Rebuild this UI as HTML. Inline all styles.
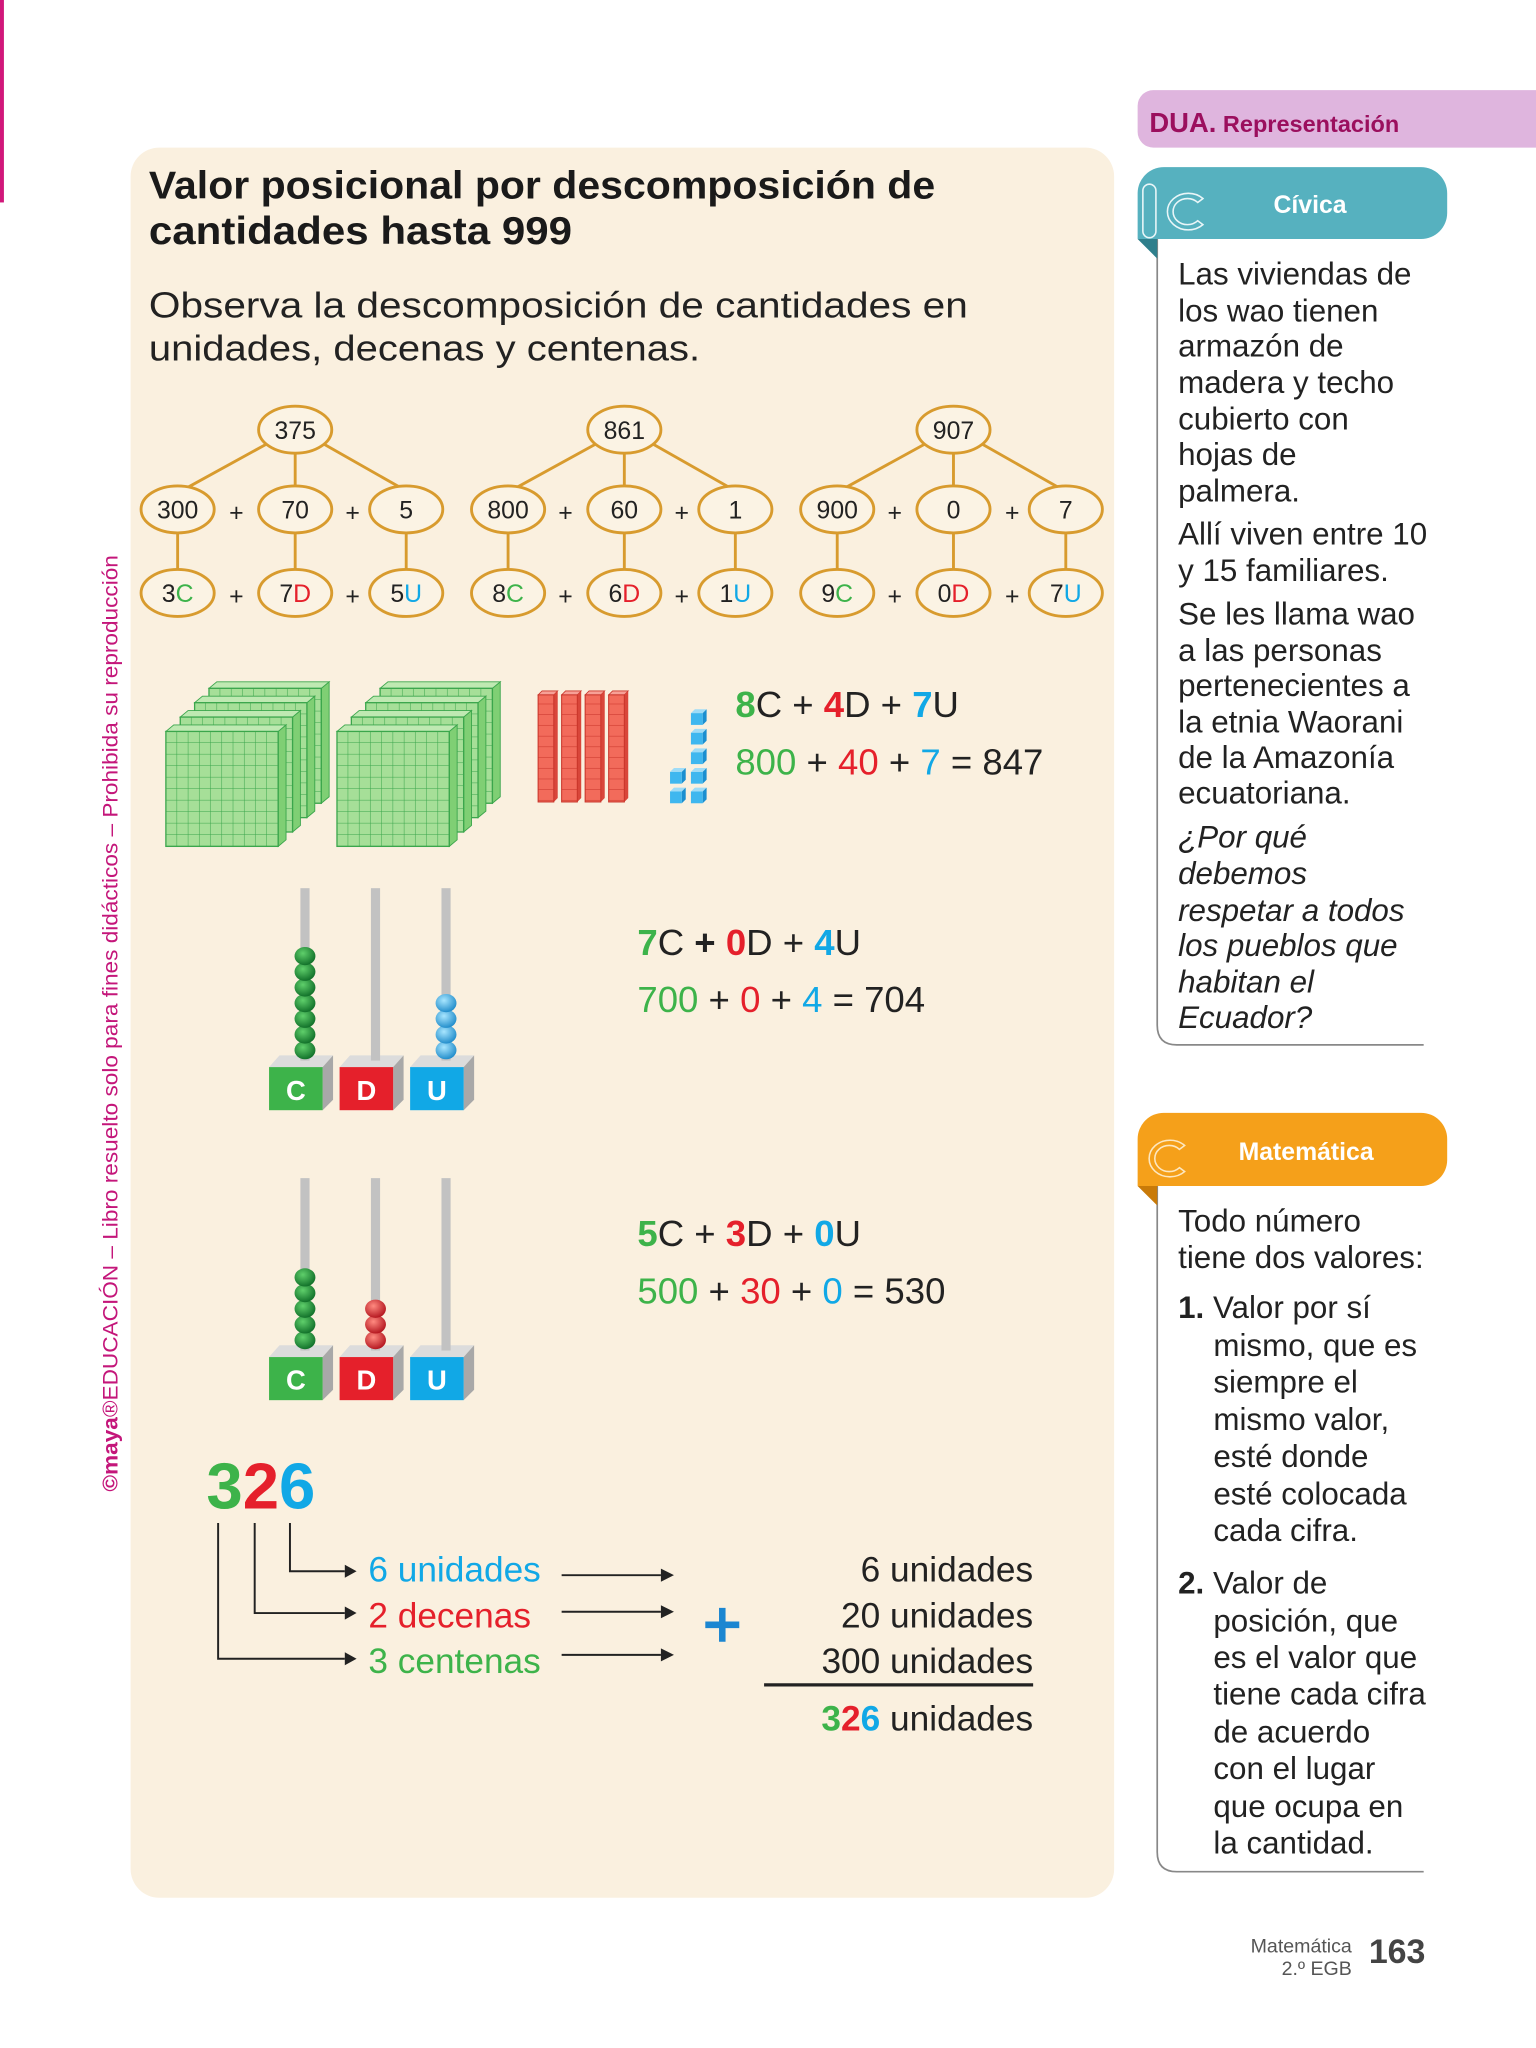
<!DOCTYPE html>
<html><head><meta charset="utf-8"><style>
html,body{margin:0;padding:0;background:#fff;}
svg{display:block;}
text{font-family:"Liberation Sans",sans-serif;}
</style></head><body>
<svg width="1536" height="2048" viewBox="0 0 1176 1568" xmlns="http://www.w3.org/2000/svg">
<defs>
<pattern id="g" x="0" y="0" width="8.6" height="8.8" patternUnits="userSpaceOnUse">
<rect width="8.6" height="8.8" fill="#a6df98"/>
<path d="M8.6 0V8.8M0 8.8H8.6" stroke="#3ba64c" stroke-width="0.8"/>
</pattern>
<g id="flat">
<polygon points="86,0 92,-5 92,83 86,88" fill="#7fcf74" stroke="#3ba64c" stroke-width="0.7"/>
<polygon points="0,0 6,-5 92,-5 86,0" fill="#bfe9b2" stroke="#3ba64c" stroke-width="0.7"/>
<rect x="0" y="0" width="86" height="88" fill="url(#g)" stroke="#3ba64c" stroke-width="1"/>
</g>
<g id="stack">
<use href="#flat" x="33" y="-33"/>
<use href="#flat" x="22" y="-22"/>
<use href="#flat" x="11" y="-11"/>
<use href="#flat" x="0" y="0"/>
</g>
<pattern id="r" x="0" y="532" width="12" height="8.2" patternUnits="userSpaceOnUse">
<rect width="12" height="8.2" fill="#f26b5b"/>
<path d="M0 8.2H12" stroke="#c9352a" stroke-width="0.8"/>
</pattern>
<g id="rod">
<polygon points="0,0 3,-3 15,-3 12,0" fill="#f7a096" stroke="#c9352a" stroke-width="0.6"/>
<polygon points="12,0 15,-3 15,79 12,82" fill="#d9463a"/>
<rect x="0" y="0" width="12" height="82" fill="url(#r)" stroke="#c9352a" stroke-width="0.8"/>
</g>
<g id="cube">
<polygon points="0,3 3,0 12,0 9,3" fill="#9fdcf7"/>
<polygon points="9,3 12,0 12,9 9,12" fill="#1b8fd0"/>
<rect x="0" y="3" width="9" height="9" fill="#3fb7ef"/>
</g>
<radialGradient id="gb" cx="0.4" cy="0.35" r="0.7"><stop offset="0" stop-color="#5fcf6b"/><stop offset="1" stop-color="#0d6b26"/></radialGradient>
<radialGradient id="bb" cx="0.4" cy="0.35" r="0.7"><stop offset="0" stop-color="#a8e6ff"/><stop offset="1" stop-color="#1a88c8"/></radialGradient>
<radialGradient id="rb" cx="0.4" cy="0.35" r="0.7"><stop offset="0" stop-color="#ff8a80"/><stop offset="1" stop-color="#b0101a"/></radialGradient>
<g id="boxes">
<polygon points="206,817 214,808 255,808 247,817" fill="#dcdcdc"/><polygon points="247,817 255,808 255,842 247,850" fill="#a8a8a8"/><rect x="206" y="817" width="41" height="33" fill="#3db34a"/>
<polygon points="260,817 268,808 309,808 301,817" fill="#dcdcdc"/><polygon points="301,817 309,808 309,842 301,850" fill="#a8a8a8"/><rect x="260" y="817" width="41" height="33" fill="#e5202b"/>
<polygon points="314,817 322,808 363,808 355,817" fill="#dcdcdc"/><polygon points="355,817 363,808 363,842 355,850" fill="#a8a8a8"/><rect x="314" y="817" width="41" height="33" fill="#11a8e6"/>
<text x="226.5" y="842" font-size="21" font-weight="bold" fill="#fff" text-anchor="middle">C</text>
<text x="280.5" y="842" font-size="21" font-weight="bold" fill="#fff" text-anchor="middle">D</text>
<text x="334.5" y="842" font-size="21" font-weight="bold" fill="#fff" text-anchor="middle">U</text>
<rect x="230" y="680" width="7" height="132" fill="#c2c2c2"/>
<rect x="284" y="680" width="7" height="132" fill="#c2c2c2"/>
<rect x="338" y="680" width="7" height="132" fill="#c2c2c2"/>
</g>
</defs>

<rect width="1176" height="1568" fill="#fff"/>
<rect x="0" y="0" width="3" height="155" fill="#d1177a"/>

<rect x="100" y="113" width="753" height="1340" rx="22" fill="#faf0df"/>
<text x="114" y="152" font-size="30" font-weight="bold" fill="#1a1a1a" textLength="602" lengthAdjust="spacingAndGlyphs">Valor posicional por descomposición de</text>
<text x="114" y="187" font-size="30" font-weight="bold" fill="#1a1a1a" textLength="324" lengthAdjust="spacingAndGlyphs">cantidades hasta 999</text>
<text x="114" y="243" font-size="28" fill="#222" textLength="627" lengthAdjust="spacingAndGlyphs">Observa la descomposición de cantidades en</text>
<text x="114" y="276" font-size="28" fill="#222" textLength="422" lengthAdjust="spacingAndGlyphs">unidades, decenas y centenas.</text>

<g stroke="#d89b2e" stroke-width="2.2" fill="none">
<path d="M204 340L144 373M226 347V372M248 340L306 373M136 408V436M226 408V436M311 408V436"/>
<path d="M456 340L396 373M478 347V372M500 340L558 373M389 408V436M478 408V436M563 408V436"/>
<path d="M708 340L648 373M730 347V372M752 340L810 373M641 408V436M730 408V436M816 408V436"/>
<g fill="#fbf3e4">
<ellipse cx="226" cy="329" rx="28" ry="18"/><ellipse cx="136" cy="390" rx="28" ry="18"/><ellipse cx="226" cy="390" rx="28" ry="18"/><ellipse cx="311" cy="390" rx="28" ry="18"/><ellipse cx="136" cy="454" rx="28" ry="18"/><ellipse cx="226" cy="454" rx="28" ry="18"/><ellipse cx="311" cy="454" rx="28" ry="18"/>
<ellipse cx="478" cy="329" rx="28" ry="18"/><ellipse cx="389" cy="390" rx="28" ry="18"/><ellipse cx="478" cy="390" rx="28" ry="18"/><ellipse cx="563" cy="390" rx="28" ry="18"/><ellipse cx="389" cy="454" rx="28" ry="18"/><ellipse cx="478" cy="454" rx="28" ry="18"/><ellipse cx="563" cy="454" rx="28" ry="18"/>
<ellipse cx="730" cy="329" rx="28" ry="18"/><ellipse cx="641" cy="390" rx="28" ry="18"/><ellipse cx="730" cy="390" rx="28" ry="18"/><ellipse cx="816" cy="390" rx="28" ry="18"/><ellipse cx="641" cy="454" rx="28" ry="18"/><ellipse cx="730" cy="454" rx="28" ry="18"/><ellipse cx="816" cy="454" rx="28" ry="18"/>
</g></g>
<g font-size="19" fill="#222" text-anchor="middle">
<text x="226" y="336">375</text><text x="136" y="397">300</text><text x="226" y="397">70</text><text x="311" y="397">5</text>
<text x="136" y="461">3<tspan fill="#3db34a">C</tspan></text><text x="226" y="461">7<tspan fill="#e5202b">D</tspan></text><text x="311" y="461">5<tspan fill="#11a8e6">U</tspan></text>
<text x="181" y="399">+</text><text x="270" y="399">+</text><text x="181" y="463">+</text><text x="270" y="463">+</text>
<text x="478" y="336">861</text><text x="389" y="397">800</text><text x="478" y="397">60</text><text x="563" y="397">1</text>
<text x="389" y="461">8<tspan fill="#3db34a">C</tspan></text><text x="478" y="461">6<tspan fill="#e5202b">D</tspan></text><text x="563" y="461">1<tspan fill="#11a8e6">U</tspan></text>
<text x="433" y="399">+</text><text x="522" y="399">+</text><text x="433" y="463">+</text><text x="522" y="463">+</text>
<text x="730" y="336">907</text><text x="641" y="397">900</text><text x="730" y="397">0</text><text x="816" y="397">7</text>
<text x="641" y="461">9<tspan fill="#3db34a">C</tspan></text><text x="730" y="461">0<tspan fill="#e5202b">D</tspan></text><text x="816" y="461">7<tspan fill="#11a8e6">U</tspan></text>
<text x="685" y="399">+</text><text x="775" y="399">+</text><text x="685" y="463">+</text><text x="775" y="463">+</text>
</g>

<use href="#stack" x="127" y="560"/>
<use href="#stack" x="258" y="560"/>
<use href="#rod" x="412" y="532"/><use href="#rod" x="430" y="532"/><use href="#rod" x="448" y="532"/><use href="#rod" x="466" y="532"/>
<use href="#cube" x="529" y="543"/><use href="#cube" x="529" y="558"/><use href="#cube" x="529" y="573"/><use href="#cube" x="529" y="588"/><use href="#cube" x="529" y="603"/>
<use href="#cube" x="513" y="588"/><use href="#cube" x="513" y="603"/>
<g font-size="28" fill="#222">
<text x="563" y="549"><tspan fill="#3db34a" font-weight="bold">8</tspan>C + <tspan fill="#e5202b" font-weight="bold">4</tspan>D + <tspan fill="#11a8e6" font-weight="bold">7</tspan>U</text>
<text x="563" y="593"><tspan fill="#3db34a">800</tspan> + <tspan fill="#e5202b">40</tspan> + <tspan fill="#11a8e6">7</tspan> = 847</text>
</g>

<use href="#boxes"/>
<g fill="url(#gb)">
<ellipse cx="233.5" cy="804" rx="8" ry="7"/><ellipse cx="233.5" cy="792" rx="8" ry="7"/><ellipse cx="233.5" cy="780" rx="8" ry="7"/><ellipse cx="233.5" cy="768" rx="8" ry="7"/><ellipse cx="233.5" cy="756" rx="8" ry="7"/><ellipse cx="233.5" cy="744" rx="8" ry="7"/><ellipse cx="233.5" cy="732" rx="8" ry="7"/>
</g>
<g fill="url(#bb)">
<ellipse cx="341.5" cy="804" rx="8" ry="7"/><ellipse cx="341.5" cy="792" rx="8" ry="7"/><ellipse cx="341.5" cy="780" rx="8" ry="7"/><ellipse cx="341.5" cy="768" rx="8" ry="7"/>
</g>
<g font-size="28" fill="#222">
<text x="488" y="731"><tspan fill="#3db34a" font-weight="bold">7</tspan>C <tspan font-weight="bold">+</tspan> <tspan fill="#e5202b" font-weight="bold">0</tspan>D + <tspan fill="#11a8e6" font-weight="bold">4</tspan>U</text>
<text x="488" y="775"><tspan fill="#3db34a">700</tspan> + <tspan fill="#e5202b">0</tspan> + <tspan fill="#11a8e6">4</tspan> = 704</text>
</g>

<use href="#boxes" y="222"/>
<g fill="url(#gb)">
<ellipse cx="233.5" cy="1026" rx="8" ry="7"/><ellipse cx="233.5" cy="1014" rx="8" ry="7"/><ellipse cx="233.5" cy="1002" rx="8" ry="7"/><ellipse cx="233.5" cy="990" rx="8" ry="7"/><ellipse cx="233.5" cy="978" rx="8" ry="7"/>
</g>
<g fill="url(#rb)">
<ellipse cx="287.5" cy="1026" rx="8" ry="7"/><ellipse cx="287.5" cy="1014" rx="8" ry="7"/><ellipse cx="287.5" cy="1002" rx="8" ry="7"/>
</g>
<g font-size="28" fill="#222">
<text x="488" y="954"><tspan fill="#3db34a" font-weight="bold">5</tspan>C + <tspan fill="#e5202b" font-weight="bold">3</tspan>D + <tspan fill="#11a8e6" font-weight="bold">0</tspan>U</text>
<text x="488" y="998"><tspan fill="#3db34a">500</tspan> + <tspan fill="#e5202b">30</tspan> + <tspan fill="#11a8e6">0</tspan> = 530</text>
</g>

<text x="158" y="1155" font-size="50" font-weight="bold"><tspan fill="#3db34a">3</tspan><tspan fill="#e5202b">2</tspan><tspan fill="#11a8e6">6</tspan></text>
<g stroke="#222" stroke-width="1.5" fill="none">
<path d="M167 1166V1270H264M195 1166V1235H264M222 1166V1203H264"/>
<path d="M430 1206H506M430 1234H506M430 1267H506"/>
<path d="M585 1290H791" stroke-width="2.5"/>
</g>
<g fill="#222">
<polygon points="264,1265 273,1270 264,1275"/><polygon points="264,1230 273,1235 264,1240"/><polygon points="264,1198 273,1203 264,1208"/>
<polygon points="506,1201 516,1206 506,1211"/><polygon points="506,1229 516,1234 506,1239"/><polygon points="506,1262 516,1267 506,1272"/>
</g>
<g font-size="27">
<text x="282" y="1211" fill="#11a8e6">6 unidades</text>
<text x="282" y="1246" fill="#e5202b">2 decenas</text>
<text x="282" y="1281" fill="#3db34a">3 centenas</text>
</g>
<path d="M553 1231V1257M540 1244H566" stroke="#1b86d1" stroke-width="5"/>
<g font-size="27" fill="#222" text-anchor="end">
<text x="791" y="1211">6 unidades</text>
<text x="791" y="1246">20 unidades</text>
<text x="791" y="1281">300 unidades</text>
<text x="791" y="1325"><tspan font-weight="bold" fill="#3db34a">3</tspan><tspan font-weight="bold" fill="#e5202b">2</tspan><tspan font-weight="bold" fill="#11a8e6">6</tspan> unidades</text>
</g>

<text transform="translate(90,1142) rotate(-90)" font-size="16" fill="#c4167a" textLength="717" lengthAdjust="spacingAndGlyphs"><tspan font-weight="bold">©maya</tspan>®EDUCACIÓN – Libro resuelto solo para fines didácticos – Prohibida su reproducción</text>

<path d="M883 69H1176V113H883A12 12 0 0 1 871 101V81A12 12 0 0 1 883 69Z" fill="#dfb5de"/>
<text x="880" y="101" font-size="21" font-weight="bold" fill="#9b0f5e">DUA.<tspan font-size="18"> Representación</tspan></text>

<path d="M886 183V785Q886 800 901 800H1090" stroke="#888" stroke-width="1.3" fill="none"/>
<polygon points="871,183 886,183 886,198" fill="#2f7f8c"/>
<path d="M891 128H1088A20 20 0 0 1 1108 148V163A20 20 0 0 1 1088 183H871V148A20 20 0 0 1 891 128Z" fill="#56b1bf"/>
<g fill="none" stroke="#e9f6f8" stroke-width="1.2">
<rect x="875" y="141" width="10" height="41" rx="5"/>
<path d="M921 152A16 14 0 1 0 921 172L917 169A11 10 0 1 1 917 155Z"/>
</g>
<text x="1003" y="163" font-size="19" font-weight="bold" fill="#fff" text-anchor="middle">Cívica</text>
<g font-size="24" fill="#222">
<text x="902" y="218">Las viviendas de</text>
<text x="902" y="246">los wao tienen</text>
<text x="902" y="273">armazón de</text>
<text x="902" y="301">madera y techo</text>
<text x="902" y="329">cubierto con</text>
<text x="902" y="356">hojas de</text>
<text x="902" y="384">palmera.</text>
<text x="902" y="417">Allí viven entre 10</text>
<text x="902" y="445">y 15 familiares.</text>
<text x="902" y="478">Se les llama wao</text>
<text x="902" y="506">a las personas</text>
<text x="902" y="533">pertenecientes a</text>
<text x="902" y="561">la etnia Waorani</text>
<text x="902" y="588">de la Amazonía</text>
<text x="902" y="615">ecuatoriana.</text>
<g font-style="italic">
<text x="902" y="649">¿Por qué</text>
<text x="902" y="677">debemos</text>
<text x="902" y="705">respetar a todos</text>
<text x="902" y="732">los pueblos que</text>
<text x="902" y="760">habitan el</text>
<text x="902" y="787">Ecuador?</text>
</g></g>

<path d="M886 908V1418Q886 1433 901 1433H1090" stroke="#888" stroke-width="1.3" fill="none"/>
<polygon points="871,908 886,908 886,923" fill="#c97a08"/>
<path d="M891 852H1088A20 20 0 0 1 1108 872V888A20 20 0 0 1 1088 908H871V872A20 20 0 0 1 891 852Z" fill="#f5a01a"/>
<path d="M907 877A16 14 0 1 0 907 897L903 894A11 10 0 1 1 903 880Z" fill="none" stroke="#fde7c0" stroke-width="1.2"/>
<text x="1000" y="888" font-size="19" font-weight="bold" fill="#fff" text-anchor="middle">Matemática</text>
<g font-size="24" fill="#222">
<text x="902" y="943">Todo número</text>
<text x="902" y="971">tiene dos valores:</text>
<text x="902" y="1009"><tspan font-weight="bold">1.</tspan> Valor por sí</text>
<text x="929" y="1038">mismo, que es</text>
<text x="929" y="1066">siempre el</text>
<text x="929" y="1095">mismo valor,</text>
<text x="929" y="1123">esté donde</text>
<text x="929" y="1152">esté colocada</text>
<text x="929" y="1180">cada cifra.</text>
<text x="902" y="1220"><tspan font-weight="bold">2.</tspan> Valor de</text>
<text x="929" y="1249">posición, que</text>
<text x="929" y="1277">es el valor que</text>
<text x="929" y="1305">tiene cada cifra</text>
<text x="929" y="1334">de acuerdo</text>
<text x="929" y="1362">con el lugar</text>
<text x="929" y="1391">que ocupa en</text>
<text x="929" y="1419">la cantidad.</text>
</g>

<text x="1035" y="1495" font-size="15" fill="#555" text-anchor="end">Matemática</text>
<text x="1035" y="1512" font-size="15" fill="#555" text-anchor="end">2.º EGB</text>
<text x="1048" y="1503" font-size="26" font-weight="bold" fill="#444">163</text>
</svg>
</body></html>
